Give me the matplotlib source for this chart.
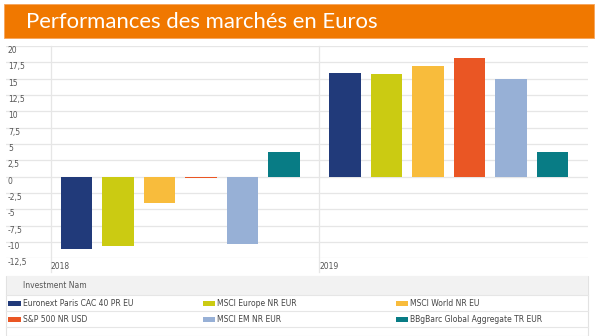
import matplotlib
matplotlib.use("Agg")
import matplotlib.pyplot as plt
from matplotlib.patches import Rectangle
from matplotlib.lines import Line2D
import numpy as np

years = ["2018", "2019"]
series = ["Euronext Paris CAC 40 PR EU", "MSCI Europe NR EUR", "MSCI World NR EU",
          "S&P 500 NR USD", "MSCI EM NR EUR", "BBgBarc Global Aggregate TR EUR"]
values_2018 = [-11.0, -10.6, -4.1, -0.2, -10.3, 3.8]
values_2019 = [15.9, 15.75, 17.0, 18.1, 15.0, 3.7]
colors = ["#213A7A", "#CBCB12", "#F8BC3C", "#EA5624", "#97B0D6", "#087C85"]
yticks = [20, 17.5, 15, 12.5, 10, 7.5, 5, 2.5, 0, -2.5, -5, -7.5, -10, -12.5]
ytick_labels = ["20", "17,5", "15", "12,5", "10", "7,5", "5", "2,5", "0",
                "-2,5", "-5", "-7,5", "-10", "-12,5"]
title = "Performances des marchés en Euros"
legend_title = "Investment Nam"

W, H = 600, 336
fig = plt.figure(figsize=(W / 100, H / 100), dpi=100)

def fx(px):
    return px / W

def fy(py):
    return 1 - py / H

# Title banner
fig.patches.append(Rectangle((fx(4), fy(38)), fx(590), 34 / H, transform=fig.transFigure,
                             facecolor="#F07800", edgecolor="#F6A45A", linewidth=0.6))
fig.text(fx(26), fy(28.5), title, color="white", fontsize=15.9, family="Lato",
         va="baseline", ha="left")

# Axes
ax_left, ax_right, ax_top, ax_bottom = 6, 588, 46, 258.3
ax = fig.add_axes([fx(ax_left), fy(ax_bottom), fx(ax_right - ax_left), (ax_bottom - ax_top) / H])
sec = 268.5
x0 = -(50.7 - ax_left) / sec
ax.set_xlim(x0, x0 + (ax_right - ax_left) / sec)
ax.set_ylim(-12.5, 20)

all_vals = [values_2018, values_2019]
offset0, step, width = 0.0959, 0.1546, 0.1173
for g, vals in enumerate(all_vals):
    for i, v in enumerate(vals):
        ax.bar(g + offset0 + step * i, v, width=width, color=colors[i], linewidth=0, zorder=3)

for s in ax.spines.values():
    s.set_visible(False)
ax.set_yticks(yticks)
ax.set_yticklabels(ytick_labels)
ax.grid(axis="y", color="#E6E6E6", linewidth=0.9, zorder=0)
ax.tick_params(axis="y", length=0, pad=-1.44, labelsize=5.5, labelcolor="#555555")
plt.setp(ax.get_yticklabels(), ha="left", va="top")
ax.set_xticks(range(len(years)))
ax.set_xticklabels(years)
ax.tick_params(axis="x", length=0, pad=3.0, labelsize=5.5, labelcolor="#555555")
plt.setp(ax.get_xticklabels(), ha="left")
for g in range(len(years)):
    ax.axvline(g, ymin=-(271.7 - ax_bottom) / (ax_bottom - ax_top), ymax=1,
               color="#E6E6E6", linewidth=0.9, clip_on=False, zorder=1)

# Legend box
fig.patches.append(Rectangle((fx(6), fy(336)), fx(582), 60 / H, transform=fig.transFigure,
                             facecolor="white", edgecolor="#E2E2E2", linewidth=0.8))
fig.patches.append(Rectangle((fx(6.5), fy(295)), fx(581), 19 / H, transform=fig.transFigure,
                             facecolor="#F2F2F2", edgecolor="none"))
for yy in (295, 311, 327.3):
    fig.lines.append(Line2D([fx(6), fx(588)], [fy(yy), fy(yy)], transform=fig.transFigure,
                            color="#E6E6E6", linewidth=0.8))
fig.text(fx(23.3), fy(285.7), legend_title, fontsize=5.5, color="#555555", va="center", ha="left")
col_sw = [8.3, 202.5, 395.5]
col_tx = [22.7, 217, 410]
row_y = [303.2, 319.3]
for k, name in enumerate(series):
    r, c = divmod(k, 3)
    fig.patches.append(Rectangle((fx(col_sw[c]), fy(row_y[r] + 2.3)), fx(12.5), 4.6 / H,
                                 transform=fig.transFigure, facecolor=colors[k], edgecolor="none"))
    fig.text(fx(col_tx[c]), fy(row_y[r]), name, fontsize=5.5, color="#444444",
             va="center", ha="left")

fig.savefig("out.png", dpi=100)
